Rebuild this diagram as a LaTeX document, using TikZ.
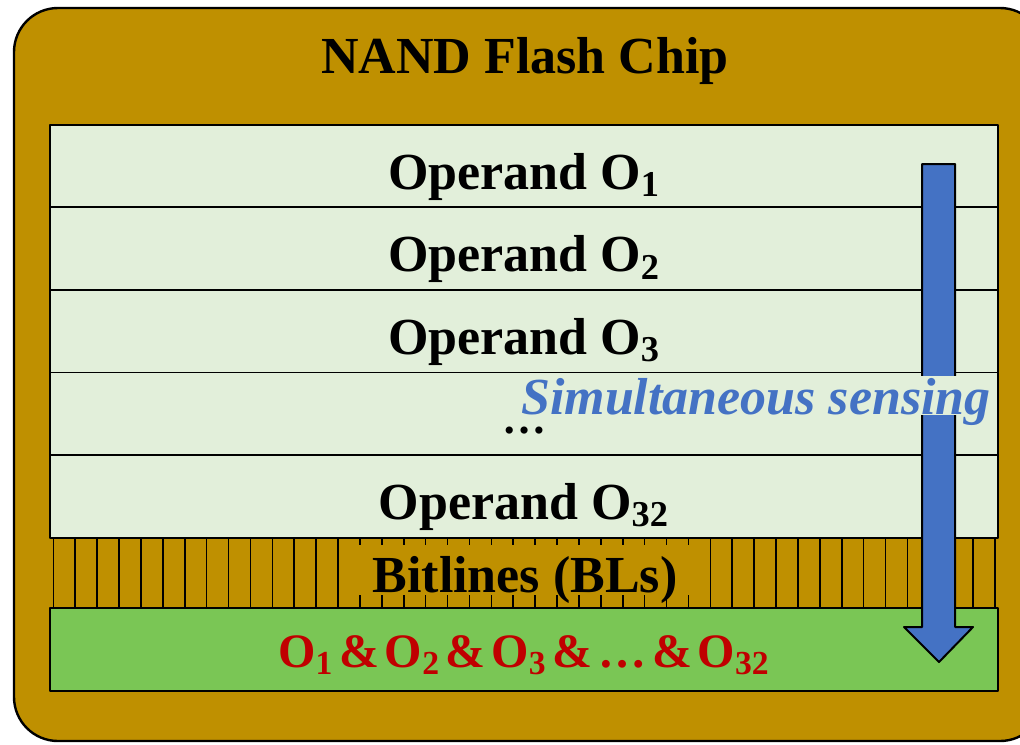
\documentclass[tikz,border=0pt]{standalone}
\usepackage{fontspec}
\setmainfont{Liberation Serif}
\usetikzlibrary{positioning}
\definecolor{chipgold}{HTML}{BF9000}
\definecolor{rowgreen}{HTML}{E2EFDA}
\definecolor{resgreen}{HTML}{7AC655}
\definecolor{senseblue}{HTML}{4472C4}
\definecolor{resred}{HTML}{C00000}
\tikzset{
  bigtext/.style={font=\bfseries\fontsize{26}{31}\selectfont},
  oprow/.style={bigtext,draw,line width=0.9pt,fill=rowgreen,minimum width=474pt,
    minimum height=41.3pt,inner sep=0pt,outer sep=0pt,text height=26pt,text depth=3pt},
}
\newcommand{\amp}{\hspace{0.12em}\&\hspace{0.12em}}
\begin{document}
\begin{tikzpicture}[x=0.5pt,y=-0.5pt,line join=round]
  \clip (0,0) rectangle (1020,744);
  \draw[line width=1.2pt,fill=chipgold,rounded corners=22pt] (14,8) rectangle (1044,741);
  \node[bigtext,anchor=base] (title) at (525,73) {NAND Flash Chip};
  % operand rows
  \node[oprow] (op1) at (524,166) {Operand O\textsubscript{1}};
  \node[oprow,below=0pt of op1] (op2) {Operand O\textsubscript{2}};
  \node[oprow,below=0pt of op2] (op3) {Operand O\textsubscript{3}};
  \node[oprow,below=0pt of op3,text height=23pt,font=\bfseries\fontsize{22}{26}\selectfont] (opdots) {\dots};
  \node[oprow,below=0pt of opdots] (op32) {Operand O\textsubscript{32}};
  % bitlines
  \foreach \i in {0,...,43}
    \draw[line width=0.8pt] (53.3+21.9*\i,538) -- ++(0,70);
  \node[bigtext,anchor=base,fill=chipgold,inner sep=0pt,inner xsep=8pt,
    text height=23.5pt,text depth=1.5pt] (bitlines) at (525,592) {Bitlines (BLs)};
  \node[oprow,fill=resgreen,text=resred,anchor=north,text height=21pt,
    font=\bfseries\fontsize{24}{29}\selectfont]
    (result) at (524,608) {O\textsubscript{1}\amp O\textsubscript{2}\amp O\textsubscript{3}\amp\dots\amp O\textsubscript{32}};
  % sensing arrow
  \draw[line width=1pt,fill=senseblue] (922,164) -- (955,164) -- (955,627) -- (973,627)
    -- (939,662) -- (904,627) -- (922,627) -- cycle;
  \node[font=\bfseries\itshape\fontsize{26}{31}\selectfont,text=senseblue,fill=rowgreen,
    anchor=base,inner sep=0pt,inner xsep=2pt,text height=19pt,text depth=0.5pt]
    (sense) at (756,414) {Simultaneous sensing};
\end{tikzpicture}
\end{document}
